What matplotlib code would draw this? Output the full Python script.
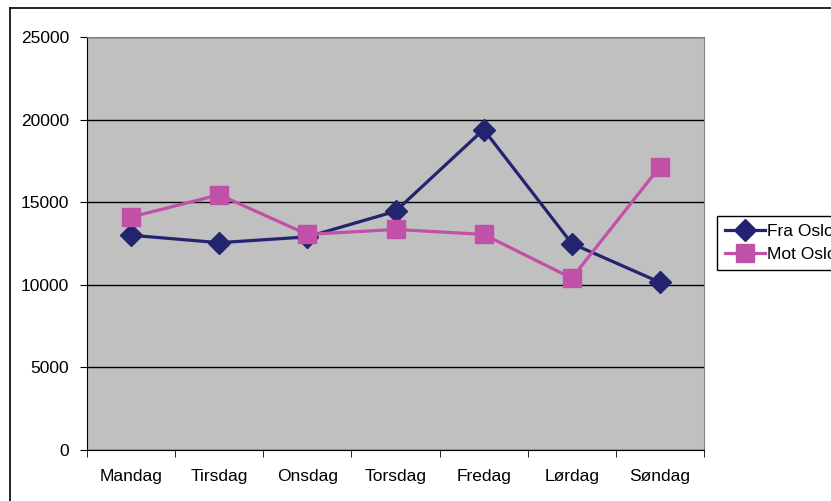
import matplotlib.pyplot as plt
from matplotlib.lines import Line2D
import numpy as np

plt.rcParams['font.family'] = ['Liberation Sans', 'DejaVu Sans']

days = ['Mandag', 'Tirsdag', 'Onsdag', 'Torsdag', 'Fredag', 'Lørdag', 'Søndag']
fra_oslo = [13000, 12550, 12900, 14450, 19400, 12500, 10150]
mot_oslo = [14100, 15450, 13050, 13350, 13050, 10400, 17150]

W, H = 831, 501
fig = plt.figure(figsize=(W / 100, H / 100), dpi=100)
ax = fig.add_axes([87 / W, 1 - 450 / H, (704 - 87) / W, (450 - 37) / H])
ax.set_facecolor('#C0C0C0')

# outer chart border (runs off the right and bottom edge)
fig.add_artist(Line2D([10 / W, 10 / W], [-0.1, 1 - 8 / H], color='black', lw=1.2))
fig.add_artist(Line2D([10 / W, 1.1], [1 - 8 / H, 1 - 8 / H], color='black', lw=1.2))

x = np.arange(len(days))
ax.plot(x, fra_oslo, color='#23236F', lw=2.3, marker='D', ms=11, label='Fra Oslo', zorder=3)
ax.plot(x, mot_oslo, color='#C050A8', lw=2.3, marker='s', ms=12.5, label='Mot Oslo', zorder=3)

ax.set_xlim(-0.5, len(days) - 0.5)
ax.set_ylim(0, 25000)
ax.set_yticks(range(0, 25001, 5000))
ax.yaxis.grid(True, color='black', lw=1)
ax.set_axisbelow(True)

ax.set_xticks(x)
ax.set_xticklabels(days, fontsize=12.5)
ax.set_xticks(np.arange(-0.5, len(days), 1), minor=True)
ax.tick_params(axis='x', which='major', length=0, pad=14)
ax.tick_params(axis='x', which='minor', length=5, direction='out')
ax.tick_params(axis='y', length=5, labelsize=12.5, pad=8)

for s in ['top', 'right']:
    ax.spines[s].set_color('#808080')
for s in ['left', 'bottom']:
    ax.spines[s].set_color('black')

leg = ax.legend(loc='upper left', bbox_to_anchor=(717 / W, 1 - 216 / H),
                bbox_transform=fig.transFigure, borderaxespad=0, fontsize=12.5,
                frameon=True, fancybox=False, edgecolor='black', framealpha=1,
                handlelength=2.3, handletextpad=0.12, borderpad=0.45, labelspacing=0.45)
leg.get_frame().set_linewidth(1)

fig.savefig('out.png', dpi=100)
